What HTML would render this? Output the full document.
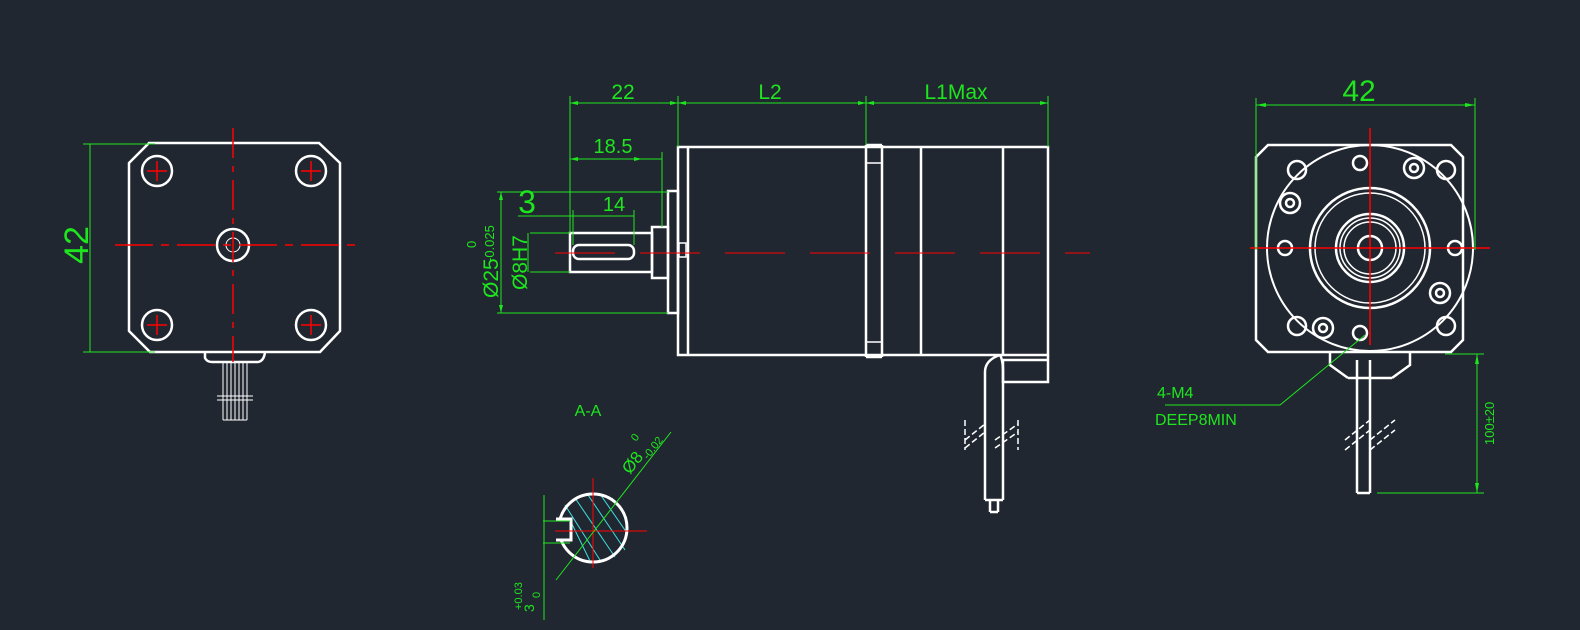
<!DOCTYPE html>
<html><head><style>
html,body{margin:0;padding:0;background:#212730;}
svg{display:block}
text{font-family:"Liberation Sans",sans-serif;fill:#1ee61e}
</style></head><body>
<svg width="1580" height="630" viewBox="0 0 1580 630" xmlns="http://www.w3.org/2000/svg">
<rect width="1580" height="630" fill="#212730"/>
<!-- LEFT VIEW -->
<g stroke="#fff" stroke-width="2.5" fill="none">
<path d="M149,143 L319,143 L340,163 L340,331 L320,352 L150,352 L129,331 L129,163 Z"/>
<circle cx="157" cy="171" r="15"/><circle cx="311" cy="171" r="15"/>
<circle cx="157" cy="325" r="15"/><circle cx="311" cy="325" r="15"/>
<circle cx="233" cy="245" r="16"/>
<circle cx="233" cy="245" r="7" stroke-width="1"/>
<path d="M205,352 L205,358 Q207,362 212,362 L258,362 Q264,361 265,352"/>
<g stroke-width="1"><path d="M223,362 V420 M227,362 V420 M231,362 V420 M235,362 V420 M239,362 V420 M243,362 V420 M247,362 V420 M223,420 H247 M217,396 H253 M217,400 H253"/></g>
</g>
<g stroke="#f00" stroke-width="1.5">
<path d="M115,245 H355" stroke-dasharray="38,8,8,8"/>
<path d="M233,128 V362" stroke-dasharray="30,8,6,8"/>
<path d="M147,171 h20 M157,161 v20 M301,171 h20 M311,161 v20 M147,325 h20 M157,315 v20 M301,325 h20 M311,315 v20"/>
</g>
<g stroke="#1ee61e" stroke-width="1" fill="none">
<path d="M83,144 H155 M83,352 H155 M90,144 V352"/>
</g>
<text transform="translate(88,245) rotate(-90)" font-size="34" text-anchor="middle">42</text>

<!-- SIDE VIEW -->
<g stroke="#fff" stroke-width="2.5" fill="none">
<rect x="678" y="147" width="370" height="208"/>
<path d="M688,147 V355 M866,145 V357 M882,145 V357 M866,145 H882 M866,357 H882 M921,147 V355 M1003,147 V355"/>
<path d="M866,163 H882 M866,342 H882" stroke-width="1.5"/>
<rect x="668" y="191" width="10" height="122"/>
<rect x="652" y="227" width="16" height="51"/>
<rect x="570" y="233" width="82" height="39"/>
<rect x="573" y="245" width="61" height="14" rx="6"/>
<rect x="679" y="243" width="7" height="14" stroke-width="1.5"/>
<path d="M1048,355 V382 H1003 V360 M1003,360 H1048"/>
<path d="M1000,355 Q985,360 985,372 V500 M1000,355 Q1003,360 1003,372 V500 M985,500 H1003 M990,500 V512 M998,500 V512 M990,512 H998"/>
<path d="M965,448 L985,432 M965,440 L985,424 M995,440 L1018,424 M995,448 L1018,432 M965,420 V450 M1018,420 V450" stroke-width="1.5" stroke-dasharray="6,3"/>
</g>
<g stroke="#f00" stroke-width="1">
<path d="M555,253 H1090" stroke-dasharray="60,25"/>
</g>
<g stroke="#1ee61e" stroke-width="1" fill="none">
<path d="M570,96 V233 M678,96 V147 M866,96 V145 M1048,96 V147 M570,103 H1048"/>
<path d="M570,159 H662 M662,152 V227"/>
<path d="M518,216 H634 M573,210 V245 M634,210 V245"/>
<path d="M497,192 H668 M497,313 H668 M501,192 V313"/>
<path d="M530,233 H570 M530,272 H570 M528,233 V272"/>
</g>
<g fill="#1ee61e"><path d="M570,103 l8,-2 v4z M678,103 l-8,-2 v4z M678,103 l8,-2 v4z M866,103 l-8,-2 v4z M866,103 l8,-2 v4z M1048,103 l-8,-2 v4z M570,159 l8,-2 v4z M642,159 l-8,-2 v4z M501,192 l-2,8 h4z M501,313 l-2,-8 h4z"/></g>
<text x="623" y="99" font-size="21" text-anchor="middle">22</text>
<text x="770" y="99" font-size="21" text-anchor="middle">L2</text>
<text x="956" y="99" font-size="21" text-anchor="middle">L1Max</text>
<text x="613" y="153" font-size="20" text-anchor="middle">18.5</text>
<text x="614" y="211" font-size="20" text-anchor="middle">14</text>
<text x="527" y="213" font-size="32" text-anchor="middle">3</text>
<text transform="translate(498,298) rotate(-90)" font-size="21">Ø25</text>
<text transform="translate(494,262) rotate(-90)" font-size="13">-0.025</text>
<text transform="translate(476,248) rotate(-90)" font-size="13">0</text>
<text transform="translate(527,290) rotate(-90)" font-size="21">Ø8H7</text>

<!-- SECTION A-A -->
<text x="588" y="416" font-size="16" text-anchor="middle">A-A</text>
<g stroke="#3de0e0" stroke-width="1">
<path d="M565,505 L600,560 M575,498 L615,557 M588,495 L625,550 M600,494 L627,533 M570,520 L590,561 M612,498 L627,518"/>
</g>
<circle cx="593" cy="528" r="34" stroke="#fff" stroke-width="3" fill="none"/>
<path d="M556,519 H571 V540 H556" stroke="#fff" stroke-width="3" fill="#212730"/>
<g stroke="#f00" stroke-width="1"><path d="M555,531 H647 M593,478 V568"/></g>
<g stroke="#1ee61e" stroke-width="1" fill="none">
<path d="M556,580 L671,432 M543,521 H570 M543,543 H570 M544,495 V620"/>
</g>
<text transform="translate(630,475) rotate(-52)" font-size="17">Ø8</text>
<text transform="translate(648,460) rotate(-52)" font-size="11">-0.02</text>
<text transform="translate(636,442) rotate(-52)" font-size="11">0</text>
<text transform="translate(534,612) rotate(-90)" font-size="14">3</text>
<text transform="translate(540,598) rotate(-90)" font-size="11">0</text>
<text transform="translate(522,610) rotate(-90)" font-size="11">+0.03</text>

<!-- RIGHT VIEW -->
<g stroke="#fff" stroke-width="2.5" fill="none">
<path d="M1268,145 L1451,145 L1463,157 L1463,340 L1451,352 L1268,352 L1256,340 L1256,157 Z"/>
<circle cx="1370" cy="248" r="103" stroke-width="2"/>
<circle cx="1370" cy="248" r="60"/>
<circle cx="1370" cy="248" r="55" stroke-width="1.5"/>
<circle cx="1370" cy="248" r="34"/><circle cx="1370" cy="248" r="30" stroke-width="1.5"/>
<circle cx="1370" cy="248" r="26" stroke-width="1.5"/>
<circle cx="1370" cy="248" r="12"/>
<circle cx="1360" cy="163" r="7"/><circle cx="1360" cy="333" r="7"/>
<circle cx="1285" cy="248" r="7"/><circle cx="1455" cy="248" r="7"/>
<circle cx="1297" cy="170" r="9"/><circle cx="1446" cy="170" r="9"/>
<circle cx="1297" cy="326" r="9"/><circle cx="1446" cy="326" r="9"/>
<circle cx="1414" cy="168" r="10"/><circle cx="1414" cy="168" r="4"/>
<circle cx="1290" cy="203" r="10"/><circle cx="1290" cy="203" r="4"/>
<circle cx="1440" cy="293" r="10"/><circle cx="1440" cy="293" r="4"/>
<circle cx="1323" cy="328" r="10"/><circle cx="1323" cy="328" r="4"/>
<path d="M1330,352 V365 L1348,378 M1410,352 V365 L1392,378 M1348,378 H1392"/>
<path d="M1357,360 V493 M1370,360 V493 M1357,493 H1370"/>
<path d="M1345,440 L1370,420 M1345,450 L1370,430 M1370,440 L1395,420 M1370,450 L1395,430" stroke-width="1.5" stroke-dasharray="6,3"/>
</g>
<g stroke="#f00" stroke-width="1.5"><path d="M1250,248 H1490 M1370,128 V345"/></g>
<g stroke="#1ee61e" stroke-width="1" fill="none">
<path d="M1256,98 V250 M1475,98 V250 M1256,105 H1475"/>
<path d="M1365,335 L1280,405 H1165"/>
<path d="M1445,354 H1484 M1377,493 H1484 M1477,354 V493"/>
</g>
<g fill="#1ee61e"><path d="M1256,105 l10,-2 v4z M1475,105 l-10,-2 v4z M1477,354 l-2,10 h4z M1477,493 l-2,-10 h4z"/></g>
<text x="1359" y="101" font-size="30" text-anchor="middle">42</text>
<text x="1157" y="398" font-size="16">4-M4</text>
<text x="1155" y="425" font-size="16">DEEP8MIN</text>
<text transform="translate(1494,445) rotate(-90)" font-size="13">100±20</text>
</svg>
</body></html>
